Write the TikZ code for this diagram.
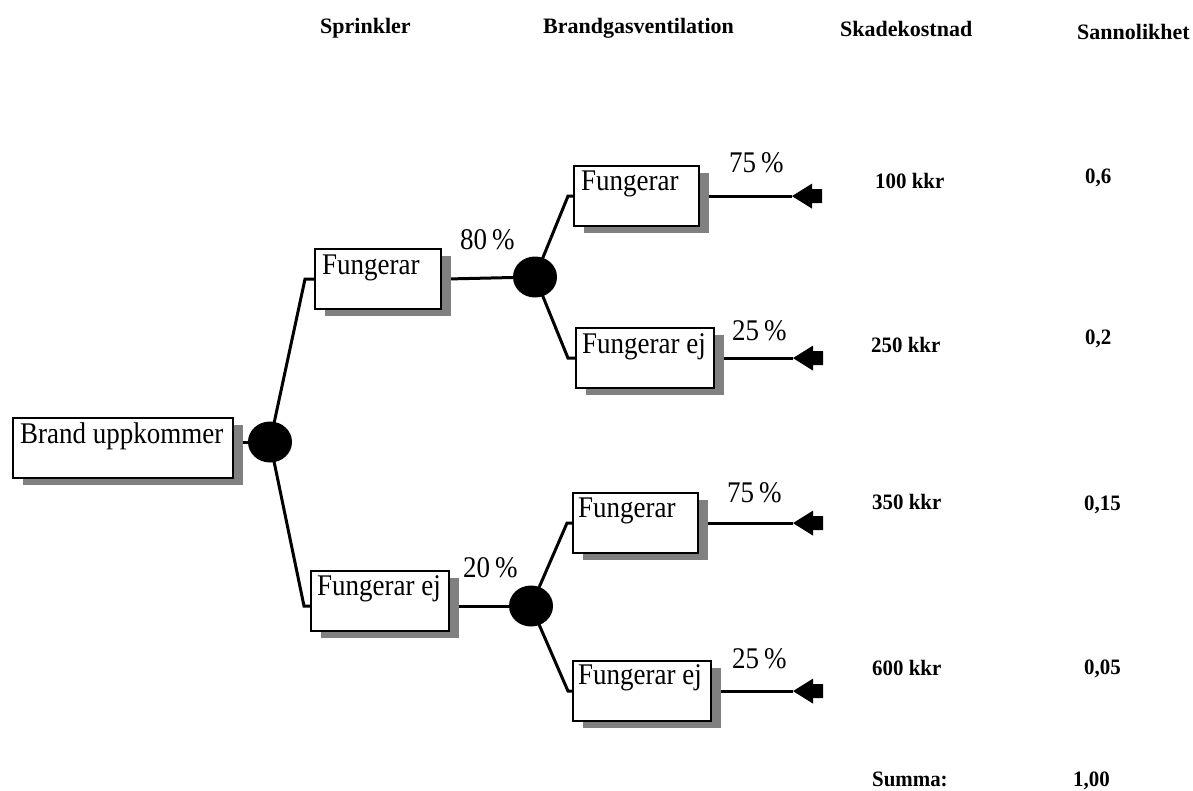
\documentclass[tikz,border=0pt]{standalone}
\usepackage{fontspec}
\setmainfont{Liberation Serif}
\newfontfamily\boxfont[FakeStretch=0.9]{Liberation Serif}
\newfontfamily\lblfont[FakeStretch=0.95]{Liberation Serif}
\usetikzlibrary{shapes.geometric,shadows,calc,backgrounds}
\definecolor{shadowgray}{HTML}{808080}
\tikzset{
  x=1pt, y=-1pt,
  boxstyle/.style={draw=black, line width=2.2pt, fill=white, anchor=north west, inner sep=0pt,
    drop shadow={shadow xshift=10pt, shadow yshift=-7pt, fill=shadowgray, opacity=1}},
  boxtext/.style={anchor=base west, inner sep=0pt, font=\boxfont\fontsize{30}{34}\selectfont},
  pct/.style={anchor=base west, inner sep=0pt, font=\boxfont\fontsize{30}{34}\selectfont},
  hdr/.style={anchor=base west, inner sep=0pt, font=\bfseries\fontsize{22}{26}\selectfont},
  val/.style={anchor=base west, inner sep=0pt, font=\lblfont\bfseries\fontsize{22}{26}\selectfont},
  dot/.style={ellipse, fill=black, draw=none, minimum width=44pt, minimum height=41pt, inner sep=0pt},
  conn/.style={line width=3pt, line join=miter},
  endarrow/.pic={\fill[black] (0,0) -- (20,-12.5) -- (20,-7) -- (30,-7) -- (30,7) -- (20,7) -- (20,12.5) -- cycle;}
}
\begin{document}
\begin{tikzpicture}
\useasboundingbox (0,0) rectangle (1193,790);

% headers
\node[hdr] (h1) at (320,33) {Sprinkler};
\node[hdr] (h2) at (543,33) {Brandgasventilation};
\node[hdr] (h3) at (840,36) {Skadekostnad};
\node[hdr] (h4) at (1077,39) {Sannolikhet};

% boxes
\node[boxstyle, minimum width=220pt, minimum height=60pt] (b0) at (12,417) {};
\node[boxstyle, minimum width=126pt, minimum height=60pt] (s1) at (314,248) {};
\node[boxstyle, minimum width=138pt, minimum height=60pt] (s2) at (310,570) {};
\node[boxstyle, minimum width=125pt, minimum height=60pt] (f1) at (573,165) {};
\node[boxstyle, minimum width=138pt, minimum height=60pt] (f2) at (575,327) {};
\node[boxstyle, minimum width=125pt, minimum height=60pt] (f3) at (572,492) {};
\node[boxstyle, minimum width=138pt, minimum height=60pt] (f4) at (572,660) {};

\node[boxtext] (tb0) at ($(b0.north west)+(8,26)$) {Brand uppkommer};
\node[boxtext] (ts1) at ($(s1.north west)+(8,26)$) {Fungerar};
\node[boxtext] (ts2) at ($(s2.north west)+(7,25)$) {Fungerar ej};
\node[boxtext] (tf1) at ($(f1.north west)+(8,25)$) {Fungerar};
\node[boxtext] (tf2) at ($(f2.north west)+(7,26)$) {Fungerar ej};
\node[boxtext] (tf3) at ($(f3.north west)+(6,25)$) {Fungerar};
\node[boxtext] (tf4) at ($(f4.north west)+(6,24)$) {Fungerar ej};

% chance nodes
\node[dot] (c1) at (270,442) {};
\node[dot] (c2) at (535,277) {};
\node[dot] (c3) at (531,606) {};

% junction and arrow coordinates
\coordinate (j1) at ($(s1.west)+(-9,0)$);
\coordinate (j2) at (304,606);
\coordinate (j3) at ($(f1.west)+(-5,0)$);
\coordinate (j4) at ($(f2.west)+(-7,0)$);
\coordinate (j5) at ($(f3.west)+(-5,0)$);
\coordinate (j6) at ($(f4.west)+(-4,0)$);
\coordinate (a1) at (f1.east -| 792,0);
\coordinate (a2) at (f2.east -| 793,0);
\coordinate (a3) at (f3.east -| 793,0);
\coordinate (a4) at (f4.east -| 793,0);

\begin{pgfonlayer}{background}
\draw[conn] (b0.east |- c1.center) -- (c1.center);
\draw[conn] (c1.center) -- (j1) -- (s1.west);
\draw[conn] (c1.center) -- (j2) -- (s2.west |- j2);
\draw[conn] (s1.east) -- (c2.center);
\draw[conn] (s2.east |- c3.center) -- (c3.center);
\draw[conn] (c2.center) -- (j3) -- (f1.west);
\draw[conn] (c2.center) -- (j4) -- (f2.west);
\draw[conn] (c3.center) -- (j5) -- (f3.west);
\draw[conn] (c3.center) -- (j6) -- (f4.west);
\draw[conn] (f1.east) -- (a1);
\draw[conn] (f2.east) -- (a2);
\draw[conn] (f3.east) -- (a3);
\draw[conn] (f4.east) -- (a4);
\end{pgfonlayer}

\pic at (a1) {endarrow};
\pic at (a2) {endarrow};
\pic at (a3) {endarrow};
\pic at (a4) {endarrow};

% percentages
\node[pct] (p1) at (460,249) {80\,\%};
\node[pct] (p2) at (463,577) {20\,\%};
\node[pct] (p3) at (729,172) {75\,\%};
\node[pct] (p4) at (732,340) {25\,\%};
\node[pct] (p5) at (727,502) {75\,\%};
\node[pct] (p6) at (732,668) {25\,\%};

% costs
\node[val] (k1) at (875,188) {100 kkr};
\node[val] (k2) at (871,352) {250 kkr};
\node[val] (k3) at (872,509) {350 kkr};
\node[val] (k4) at (872,675) {600 kkr};
\node[val] (k5) at (872,786) {Summa:};

% probabilities
\node[val] (q1) at (1085,183) {0,6};
\node[val] (q2) at (1085,344) {0,2};
\node[val] (q3) at (1084,510) {0,15};
\node[val] (q4) at (1084,674) {0,05};
\node[val] (q5) at (1073,786) {1,00};
\end{tikzpicture}
\end{document}
